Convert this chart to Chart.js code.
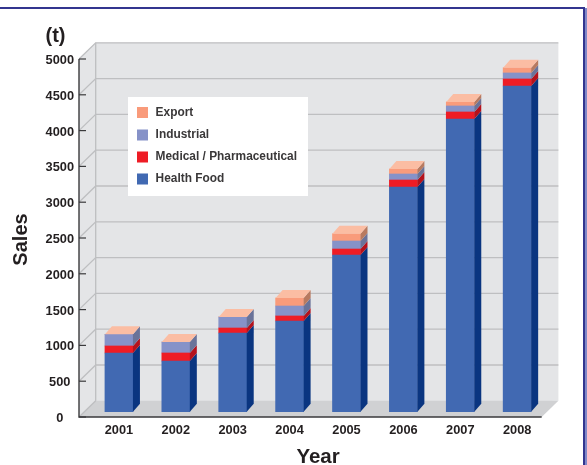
<!DOCTYPE html>
<html><head><meta charset="utf-8">
<style>html,body{margin:0;padding:0;background:#fff}canvas{display:block}</style>
<script src="https://cdn.jsdelivr.net/npm/chart.js@4/dist/chart.umd.min.js"></script>
</head><body><canvas id="c" width="587" height="465"></canvas>
<script>
const years = ['2001','2002','2003','2004','2005','2006','2007','2008'];
const healthFood = [820,708,1099,1267,2189,3138,4088,4549];
const medical = [98,112,70,70,83,98,98,98];
const industrial = [163,153,154,139,112,84,84,84];
const exportSales = [0,0,0,112,102,70,56,74];
const FONT = '"Liberation Sans", Arial, sans-serif';
const INK = '#231F20';
const DX = 7, DY = 8;
const LABEL_DROP = 1.5;                    // tick labels sit slightly below their tick marks
const LIFT = 5.3 + LABEL_DROP;             // bars stand a little behind the front edge
const WALL_DX = 16.7, WALL_DY = 16.2;      // depth of the walls
const AXIS_LEFT = 79, AXIS_RIGHT = 541.7;

const scene = {
  id: 'scene',
  beforeDraw(chart) {
    const c = chart.ctx, y = chart.scales.y;
    const py = v => y.getPixelForValue(v) - LABEL_DROP;
    const y0 = py(0), yTop = py(5000);
    const bx = AXIS_LEFT + WALL_DX, brx = AXIS_RIGHT + WALL_DX;
    c.save();
    // page frame
    c.fillStyle = '#33358F'; c.fillRect(0, 7, 585, 2); c.fillRect(583, 7, 2, 458);
    c.fillStyle = '#8088C8'; c.fillRect(585, 8, 2, 457);
    // walls
    c.fillStyle = '#E4E5E7';
    c.beginPath(); c.moveTo(AXIS_LEFT, yTop); c.lineTo(bx, yTop - WALL_DY); c.lineTo(brx, yTop - WALL_DY);
    c.lineTo(brx, y0 - WALL_DY); c.lineTo(AXIS_LEFT, y0); c.closePath(); c.fill();
    // floor
    c.fillStyle = '#D0D1D3';
    c.beginPath(); c.moveTo(AXIS_LEFT, y0); c.lineTo(AXIS_RIGHT, y0); c.lineTo(brx, y0 - WALL_DY); c.lineTo(bx, y0 - WALL_DY); c.closePath(); c.fill();
    // grid
    c.strokeStyle = '#BEBFC1'; c.lineWidth = 1.3;
    y.ticks.forEach(t => {
      const p = py(t.value);
      if (t.value === 0) return;
      c.beginPath(); c.moveTo(AXIS_LEFT, p); c.lineTo(bx, p - WALL_DY); c.lineTo(brx, p - WALL_DY); c.stroke();
    });
    c.beginPath(); c.moveTo(AXIS_LEFT, y0); c.lineTo(bx, y0 - WALL_DY); c.moveTo(bx, yTop - WALL_DY); c.lineTo(bx, y0 - WALL_DY); c.stroke();
    // axes
    c.strokeStyle = '#3A3A3C'; c.lineWidth = 1.2;
    y.ticks.forEach(t => {
      const p = py(t.value);
      c.beginPath(); c.moveTo(AXIS_LEFT, p); c.lineTo(AXIS_LEFT + 7, p); c.stroke();
    });
    c.lineWidth = 1.4;
    c.beginPath(); c.moveTo(AXIS_LEFT, yTop); c.lineTo(AXIS_LEFT, y0); c.lineTo(AXIS_RIGHT, y0); c.stroke();
    // unit
    c.fillStyle = INK; c.font = 'bold 20px ' + FONT; c.textAlign = 'center'; c.textBaseline = 'alphabetic';
    c.fillText('(t)', 55.5, 42);
    c.restore();
  },
  beforeDatasetsDraw(chart) {
    chart.ctx.save();
    chart.ctx.translate(0, -LIFT);
  },
  afterDatasetsDraw(chart) {
    const c = chart.ctx;
    const metas = chart.getSortedVisibleDatasetMetas();
    metas.forEach(m => {
      const side = chart.data.datasets[m.index].sideColor;
      m.data.forEach(b => {
        if (Math.abs(b.base - b.y) < 0.01) return;
        const r = b.x + b.width / 2;
        c.fillStyle = side;
        c.beginPath(); c.moveTo(r, b.y); c.lineTo(r + DX, b.y - DY); c.lineTo(r + DX, b.base - DY); c.lineTo(r, b.base); c.closePath(); c.fill();
      });
    });
    const last = metas[metas.length - 1];
    c.fillStyle = '#FBBDA3';
    last.data.forEach(b => {
      const l = b.x - b.width / 2, r = b.x + b.width / 2, t = b.y;
      c.beginPath(); c.moveTo(l, t); c.lineTo(r, t); c.lineTo(r + DX, t - DY); c.lineTo(l + DX, t - DY); c.closePath(); c.fill();
    });
    c.restore();
  },
  afterDraw(chart) {
    const c = chart.ctx;
    c.save();
    c.fillStyle = '#FFFFFF'; c.fillRect(128, 97, 180, 99);
    const rows = [112.5, 135, 157, 179];
    const items = chart.data.datasets.slice().reverse();
    c.font = 'bold 11.9px ' + FONT; c.textAlign = 'left'; c.textBaseline = 'middle';
    items.forEach((d, i) => {
      c.fillStyle = d.backgroundColor; c.fillRect(137, rows[i] - 5.5, 11, 11);
      c.fillStyle = '#3A3839'; c.fillText(d.label, 155.6, rows[i]);
    });
    c.restore();
  }
};

new Chart(document.getElementById('c'), {
  type: 'bar',
  data: {
    labels: years,
    datasets: [
      { label: 'Health Food', data: healthFood, backgroundColor: '#4169B2', sideColor: '#0A3580' },
      { label: 'Medical / Pharmaceutical', data: medical, backgroundColor: '#EE1C25', sideColor: '#B4121C' },
      { label: 'Industrial', data: industrial, backgroundColor: '#8692C8', sideColor: '#6A7399' },
      { label: 'Export', data: exportSales, backgroundColor: '#F99B7B', sideColor: '#B87A60' }
    ]
  },
  options: {
    responsive: false, animation: false,
    layout: { padding: { top: 60.5, right: 41.4, left: 0, bottom: -3 } },
    datasets: { bar: { barThickness: 28, borderWidth: 0, clip: false } },
    plugins: { legend: { display: false }, title: { display: false }, tooltip: { enabled: false } },
    scales: {
      x: {
        stacked: true,
        grid: { display: false, drawTicks: false }, border: { display: false },
        afterFit(s) { s.height = 49.5; },
        ticks: { color: INK, font: { family: FONT, weight: 'bold', size: 12.8 }, padding: 4.5, maxRotation: 0, autoSkip: false },
        title: { display: true, text: 'Year', color: INK, font: { family: FONT, weight: 'bold', size: 20.5, lineHeight: 1 }, padding: 0 }
      },
      y: {
        stacked: true, min: 0, max: 5000,
        grid: { display: false, drawTicks: false }, border: { display: false },
        afterFit(s) { s.width = 90.5; },
        ticks: { stepSize: 500, color: INK, crossAlign: 'center', font: { family: FONT, weight: 'bold', size: 12.8 }, padding: 16.5, callback: v => String(v) },
        title: { display: true, text: 'Sales', color: INK, font: { family: FONT, weight: 'bold', size: 20 }, padding: { top: 9, bottom: 0 } }
      }
    }
  },
  plugins: [scene]
});
</script></body></html>
